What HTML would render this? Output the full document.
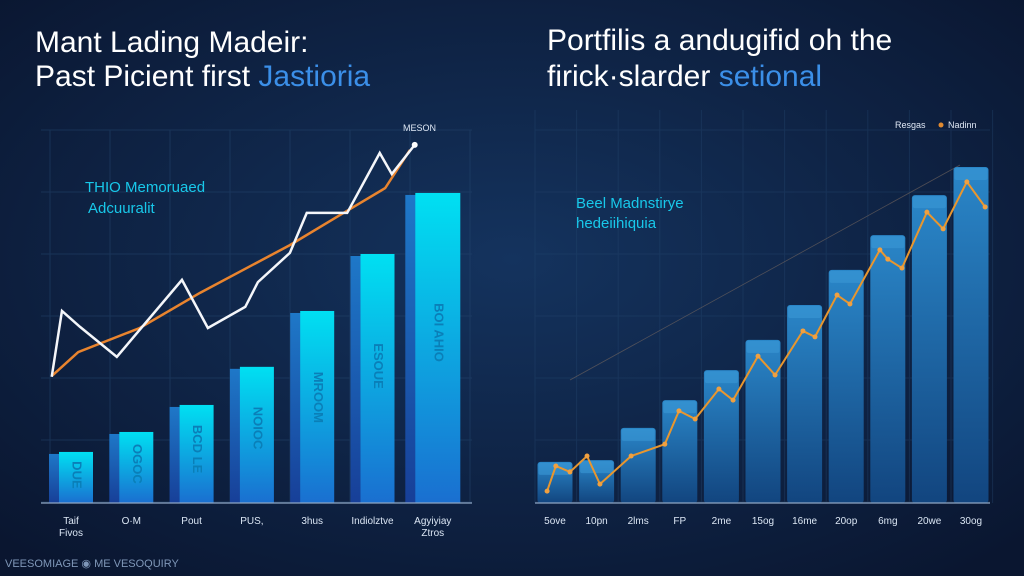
<!DOCTYPE html>
<html><head><meta charset="utf-8"><style>
html,body{margin:0;padding:0;width:1024px;height:576px;overflow:hidden;background:#0c1b36}
svg{display:block;font-family:"Liberation Sans",sans-serif}
</style></head><body>
<svg id="c" width="1024" height="576" viewBox="0 0 1024 576">
<defs>
<radialGradient id="bg" cx="50%" cy="45%" r="70%"><stop offset="0" stop-color="#14335e"/><stop offset="1" stop-color="#0a1630"/></radialGradient>
<linearGradient id="lf" x1="0" y1="0" x2="0" y2="1"><stop offset="0" stop-color="#00e0f2"/><stop offset="1" stop-color="#1a6fd0"/></linearGradient>
<linearGradient id="ls" x1="0" y1="0" x2="0" y2="1"><stop offset="0" stop-color="#1e78c8"/><stop offset="1" stop-color="#173f98"/></linearGradient>
<linearGradient id="rf" x1="0" y1="0" x2="0" y2="1"><stop offset="0" stop-color="#2a86c8"/><stop offset="1" stop-color="#12457f"/></linearGradient>
</defs>
<rect width="1024" height="576" fill="url(#bg)"/>
<g id="gridL" stroke="#24466e" stroke-width="1" opacity="0.5"></g>
<g id="gridR" stroke="#24466e" stroke-width="1" opacity="0.4"></g>
<text x="35" y="52" font-size="30" fill="#fff">Mant Lading Madeir:</text>
<text x="35" y="86" font-size="30" fill="#fff">Past Picient first <tspan fill="#3b8fe8">Jastioria</tspan></text>
<text x="547" y="50" font-size="30" fill="#fff">Portfilis a andugifid oh the</text>
<text x="547" y="86" font-size="30" fill="#fff">firick·slarder <tspan fill="#3b8fe8">setional</tspan></text>
<text x="85" y="192" font-size="15" fill="#18c8ea">THIO Memoruaed</text>
<text x="88" y="213" font-size="15" fill="#18c8ea">Adcuuralit</text>
<text x="403" y="131" font-size="9" fill="#dfe8f5">MESON</text>
<text x="576" y="208" font-size="15" fill="#18c8ea">Beel Madnstirye</text>
<text x="576" y="228" font-size="15" fill="#18c8ea">hedeiihiquia</text>
<text x="895" y="128" font-size="9" fill="#dfe8f5">Resgas</text>
<circle cx="941" cy="125" r="2.5" fill="#e08a30"/>
<text x="948" y="128" font-size="9" fill="#dfe8f5">Nadinn</text>
<text x="5" y="567" font-size="11" fill="#7f97b8">VEESOMIAGE ◉ ME VESOQUIRY</text>
<g id="L"></g><g id="R"></g>
<line x1="41" y1="503" x2="472" y2="503" stroke="#8fa6c4" stroke-width="1.2"/>
<line x1="535" y1="503" x2="990" y2="503" stroke="#8fa6c4" stroke-width="1.2"/>
</svg>
<script>
const catsL=["Taif","O·M","Pout","PUS,","3hus","Indiolztve","Agyiyiay"];
const catsL2=["Fivos","","","","","","Ztros"];
const barsL=[13.8,19.2,26.5,36.8,51.9,67.3,83.8];
const barTextL=["DUE","OGOC","BCD LE","NOIOC","MROOM","ESOUE","BOI AHIO"];
const whiteX=[-0.32,-0.15,0.15,0.76,1.84,2.27,2.89,3.1,3.63,3.91,4.58,5.12,5.32,5.7];
const whiteV=[34.1,51.9,47.6,39.5,60.3,47.3,53,59.7,67.6,78.4,78.4,94.6,88.9,96.8];
const orangeLX=[-0.32,0.12,1.14,2.14,3.63,4.54,5.21,5.62];
const orangeLV=[34.3,40.8,47.3,56.8,69.7,78.6,85.1,95.4];
const catsR=["5ove","10pn","2lms","FP","2me","15og","16me","20op","6mg","20we","30og"];
const barsR=[11.1,11.6,20.3,27.8,35.9,44.1,53.5,63,72.4,83.2,90.8];
const lineRX=[-0.19,0.02,0.36,0.77,1.08,1.83,2.64,2.98,3.37,3.94,4.28,4.88,5.29,5.96,6.25,6.78,7.09,7.81,8.0,8.34,8.94,9.33,9.9,10.34];
const lineRV=[3.2,10,8.4,12.7,5.1,12.7,15.9,24.9,22.7,30.8,27.8,39.7,34.6,46.5,44.9,56.2,53.8,68.4,65.9,63.5,78.6,74.1,86.8,80];

const NS="http://www.w3.org/2000/svg";
const y=v=>503-v*3.7;
const xL=i=>71+i*60.3;
const xR=i=>555+i*41.6;
function mk(t,a,p){const e=document.createElementNS(NS,t);for(const k in a)e.setAttribute(k,a[k]);p.appendChild(e);return e;}
const L=document.getElementById('L'),R=document.getElementById('R');
const gL=document.getElementById('gridL'),gR=document.getElementById('gridR');
for(let i=0;i<8;i++){const l=mk('line',{x1:50+i*60,y1:130,x2:50+i*60,y2:503},gL);

}
for(let i=0;i<7;i++){const l=mk('line',{x1:41,y1:130+i*62,x2:472,y2:130+i*62},gL);

}
for(let i=0;i<12;i++){const l=mk('line',{x1:535+i*41.6,y1:110,x2:535+i*41.6,y2:503},gR);

}
for(let i=0;i<7;i++){const l=mk('line',{x1:535,y1:130+i*62,x2:990,y2:130+i*62},gR);

}

barsL.forEach((v,i)=>{const cx=xL(i),w=i==6?55:44,top=y(v);
const s=mk('rect',{x:cx-w/2,y:top+2,width:11,height:503-top-2,fill:'url(#ls)'},L);


const f=mk('rect',{x:cx-w/2+10,y:top,width:w-10,height:503-top,fill:'url(#lf)'},L);


const tx=cx+5,ty=top+(503-top)*0.45;
const t=mk('text',{x:tx,y:ty,'font-size':13,'font-weight':'bold',fill:'#0a7fb8','text-anchor':'middle',transform:`rotate(90 ${tx} ${ty})`,'dominant-baseline':'middle'},L);
t.textContent=barTextL[i];


const lb=mk('text',{x:cx,y:524,'font-size':10,fill:'#dbe6f4','text-anchor':'middle'},L);lb.textContent=catsL[i];


if(catsL2[i]){const l2=mk('text',{x:cx,y:536,'font-size':10,fill:'#dbe6f4','text-anchor':'middle'},L);l2.textContent=catsL2[i];

}
});
const po=mk('polyline',{points:orangeLX.map((x,i)=>xL(x)+','+y(orangeLV[i])).join(' '),fill:'none',stroke:'#e9842e','stroke-width':2.5},L);


const pw=mk('polyline',{points:whiteX.map((x,i)=>xL(x)+','+y(whiteV[i])).join(' '),fill:'none',stroke:'#f4f6fa','stroke-width':2.5,'stroke-linejoin':'miter'},L);


const dw=mk('circle',{cx:xL(whiteX[whiteX.length-1]),cy:y(whiteV[whiteV.length-1]),r:3,fill:'#fff'},L);



const diag=mk('line',{x1:570,y1:380,x2:960,y2:165,stroke:'#7a6a60','stroke-width':0.8,opacity:0.6},R);


barsR.forEach((v,i)=>{const cx=xR(i),w=35,top=y(v);
const b=mk('rect',{x:cx-w/2,y:top,width:w,height:503-top,fill:'url(#rf)',rx:3},R);


const c=mk('rect',{x:cx-w/2+1,y:top+1,width:w-2,height:12,fill:'#3a98d6',opacity:0.6,rx:2},R);


const lb=mk('text',{x:cx,y:524,'font-size':10,fill:'#dbe6f4','text-anchor':'middle'},R);lb.textContent=catsR[i];


});
const pr=mk('polyline',{points:lineRX.map((x,i)=>xR(x)+','+y(lineRV[i])).join(' '),fill:'none',stroke:'#e8962e','stroke-width':2},R);


lineRX.forEach((x,i)=>{const d=mk('circle',{cx:xR(x),cy:y(lineRV[i]),r:2.5,fill:'#f0a040'},R);

});
</script>
</body></html>
